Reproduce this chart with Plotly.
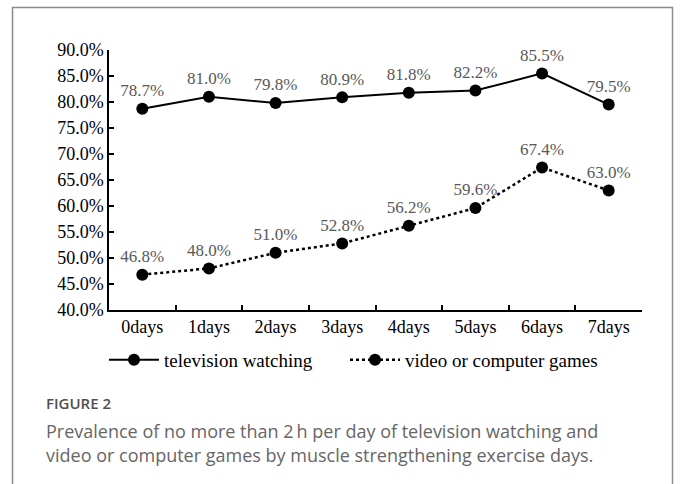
import plotly.graph_objects as go

categories = ["0days", "1days", "2days", "3days", "4days", "5days", "6days", "7days"]
tv_watching = [78.7, 81.0, 79.8, 80.9, 81.8, 82.2, 85.5, 79.5]
video_games = [46.8, 48.0, 51.0, 52.8, 56.2, 59.6, 67.4, 63.0]
y_ticks = [40, 45, 50, 55, 60, 65, 70, 75, 80, 85, 90]
series_names = ["television watching", "video or computer games"]
caption_label = "FIGURE 2"
caption_lines = [
    "Prevalence of no more than 2\u2009h per day of television watching and",
    "video or computer games by muscle strengthening exercise days.",
]

W, H = 680, 484
L, R, T, B = 109, 38, 50, 174
PW = W - L - R
PH = H - T - B


def px(x):
    return (x - L) / PW


def py(y):
    return (H - B - y) / PH


serif = "Liberation Serif, Times New Roman, serif"
sans = "Open Sans, Lato, sans-serif"

fig = go.Figure()
fig.add_trace(go.Scatter(
    x=categories, y=tv_watching, name=series_names[0], legend="legend",
    mode="lines+markers+text",
    line=dict(color="black", width=2),
    marker=dict(color="black", size=12),
    text=[f"{v:.1f}%" for v in tv_watching],
    textposition="top center",
    textfont=dict(family=serif, size=17, color="#595959"),
    cliponaxis=False,
))
fig.add_trace(go.Scatter(
    x=categories, y=video_games, name=series_names[1], legend="legend2",
    mode="lines+markers+text",
    line=dict(color="black", width=2.5, dash="dot"),
    marker=dict(color="black", size=12),
    text=[f"{v:.1f}%" for v in video_games],
    textposition="top center",
    textfont=dict(family=serif, size=17, color="#595959"),
    cliponaxis=False,
))

legend_common = dict(
    orientation="h", yanchor="middle", xanchor="left",
    font=dict(family=serif, size=19, color="black"),
    itemwidth=50, bgcolor="rgba(0,0,0,0)",
)

fig.update_layout(
    width=W, height=H,
    margin=dict(l=L, r=R, t=T, b=B),
    paper_bgcolor="white", plot_bgcolor="white",
    font=dict(family=serif, color="black", size=18),
    showlegend=True,
    legend=dict(x=px(104), y=py(360), **legend_common),
    legend2=dict(x=px(345), y=py(360), **legend_common),
    xaxis=dict(
        type="category", categoryorder="array", categoryarray=categories,
        range=[-0.5, 7.5], showline=True, linecolor="black", linewidth=1.5,
        ticks="inside", ticklen=5, tickcolor="black", tickwidth=1.5,
        tickson="boundaries", showgrid=False, zeroline=False,
        tickfont=dict(family=serif, size=18, color="black"),
    ),
    yaxis=dict(
        range=[40, 90], tickvals=y_ticks,
        ticktext=[f"{v:.1f}%" for v in y_ticks],
        showline=True, linecolor="black", linewidth=1.5,
        ticks="inside", ticklen=5, tickcolor="black", tickwidth=1.5,
        showgrid=False, zeroline=False,
        tickfont=dict(family=serif, size=18, color="black"),
    ),
    shapes=[dict(
        type="rect", xref="paper", yref="paper",
        x0=px(12.5), x1=px(672.5), y0=py(495), y1=py(7.5),
        line=dict(color="#8c8c8c", width=1.5), fillcolor="rgba(0,0,0,0)",
        layer="above",
    )],
    annotations=[
        dict(text=caption_label, xref="paper", yref="paper", x=px(44), y=py(403),
             xanchor="left", yanchor="middle", showarrow=False,
             font=dict(family=sans, size=15, color="#505050", weight=600)),
        dict(text=caption_lines[0], xref="paper", yref="paper", x=px(44), y=py(431),
             xanchor="left", yanchor="middle", showarrow=False,
             font=dict(family=sans, size=18, color="#666666")),
        dict(text=caption_lines[1], xref="paper", yref="paper", x=px(44), y=py(455),
             xanchor="left", yanchor="middle", showarrow=False,
             font=dict(family=sans, size=18, color="#666666")),
    ],
)

fig.write_html(
    "out.html",
    config={"displayModeBar": False},
    post_script="document.body.style.margin='0';",
)
